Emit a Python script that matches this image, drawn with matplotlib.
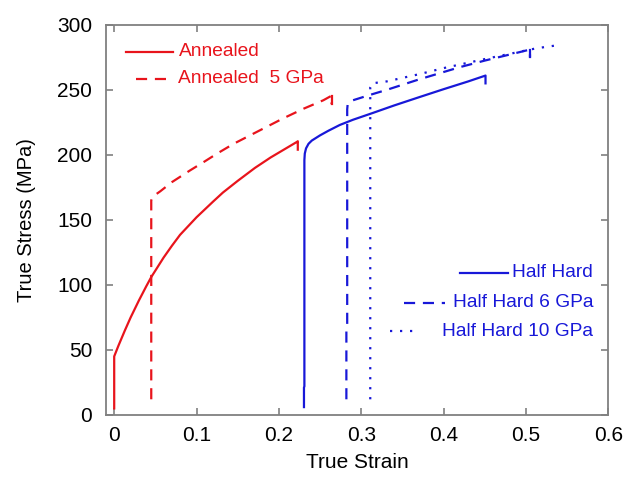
import numpy as np
import matplotlib
matplotlib.use("Agg")
import matplotlib.pyplot as plt
from matplotlib.lines import Line2D

plt.rcParams['font.family'] = ['Liberation Sans', 'DejaVu Sans']

# curves (strain, stress MPa)
ann_x = [0.0, 0.0, 0.005, 0.013, 0.02, 0.03, 0.039, 0.045, 0.06, 0.07, 0.08, 0.1,
         0.12, 0.132, 0.15, 0.171, 0.19, 0.21, 0.222, 0.223, 0.223]
ann_y = [5, 45, 53, 65, 75, 88, 99, 106, 121, 130, 138.5, 152,
         164, 171, 180, 190, 198, 205.5, 210, 210.5, 204]

ann5_x = [0.045, 0.045, 0.047, 0.056, 0.07, 0.092, 0.11, 0.125, 0.145, 0.165, 0.185,
          0.205, 0.23, 0.254, 0.264, 0.264]
ann5_y = [12, 165, 168, 172, 179, 188, 195, 201, 208.5, 215, 221.5,
          228, 235.5, 242, 245.5, 239]

hh_x = [0.2305, 0.2305, 0.231, 0.231, 0.2315, 0.233, 0.236, 0.24, 0.245, 0.25, 0.26,
        0.274, 0.29, 0.313, 0.34, 0.371, 0.4, 0.43, 0.451, 0.451]
hh_y = [6, 21, 22, 196, 201, 205, 208.5, 211, 213, 215, 218.5,
        223, 227, 232, 238, 244.5, 250.5, 256.5, 261, 255]

hh6_x = [0.282, 0.282, 0.283, 0.283, 0.2835, 0.285, 0.29, 0.31, 0.331, 0.37, 0.42,
         0.45, 0.489, 0.505, 0.505]
hh6_y = [12, 68, 70, 235, 238.5, 240.5, 242, 246, 250, 258, 267.5,
         272.5, 278.5, 281, 275]

hh10_x = [0.311, 0.311, 0.313, 0.331, 0.37, 0.402, 0.456, 0.513, 0.535, 0.535]
hh10_y = [12, 252, 255, 256.5, 262, 267, 274.5, 282, 284, 279]

red = '#e8141c'
blue = '#1818d8'
gray = '#808080'
dash = (5, 3.5)
dot = (1, 3.5)

fig = plt.figure(figsize=(6.27, 4.78), dpi=100)
ax = fig.add_axes([0.169, 0.132, 0.801, 0.816])

ax.plot(ann_x, ann_y, color=red, lw=1.6)
ax.plot(ann5_x, ann5_y, color=red, lw=1.6, dashes=dash)
ax.plot(ann5_x[-2:], ann5_y[-2:], color=red, lw=1.6)
ax.plot(hh_x, hh_y, color=blue, lw=1.6)
ax.plot(hh6_x, hh6_y, color=blue, lw=1.6, dashes=dash)
ax.plot(hh6_x[-2:], hh6_y[-2:], color=blue, lw=1.6)
ax.plot(hh10_x, hh10_y, color=blue, lw=1.6, dashes=dot)

ax.set_xlim(-0.01, 0.6)
ax.set_ylim(0, 300)
ax.set_xticks(np.arange(0, 0.61, 0.1))
ax.set_yticks(np.arange(0, 301, 50))
ax.xaxis.set_major_formatter(matplotlib.ticker.FormatStrFormatter('%g'))
ax.tick_params(direction='in', length=5, width=1.2, color=gray,
               top=True, right=True, labelsize=15, pad=8)
ax.tick_params(axis='y', pad=10)
for s in ax.spines.values():
    s.set_color(gray)
    s.set_linewidth(1.3)

ax.set_xlabel('True Strain', fontsize=15, labelpad=6)
ax.set_ylabel('True Stress (MPa)', fontsize=14.5, labelpad=15)

# hand-placed legends as in the original
fs = 13.8
tr = ax.transAxes
ax.add_line(Line2D([0.040, 0.134], [0.931, 0.931], color=red, lw=1.6, transform=tr))
ax.text(0.145, 0.931, 'Annealed', color=red, fontsize=fs, va='center', transform=tr)
ax.add_line(Line2D([0.060, 0.128], [0.8615, 0.8615], color=red, lw=1.6,
                   dashes=dash, transform=tr))
ax.text(0.143, 0.8615, 'Annealed  5 GPa', color=red, fontsize=fs, va='center', transform=tr)

ax.add_line(Line2D([0.705, 0.801], [0.364, 0.364], color=blue, lw=1.6, transform=tr))
ax.text(0.970, 0.364, 'Half Hard', color=blue, fontsize=fs, va='center', ha='right', transform=tr)
ax.add_line(Line2D([0.594, 0.676], [0.287, 0.287], color=blue, lw=1.6,
                   dashes=dash, transform=tr))
ax.text(0.970, 0.287, 'Half Hard 6 GPa', color=blue, fontsize=fs, va='center', ha='right', transform=tr)
ax.add_line(Line2D([0.566, 0.612], [0.215, 0.215], color=blue, lw=1.6,
                   dashes=dot, transform=tr))
ax.text(0.970, 0.215, 'Half Hard 10 GPa', color=blue, fontsize=fs, va='center', ha='right', transform=tr)

fig.savefig('out.png', dpi=100)
